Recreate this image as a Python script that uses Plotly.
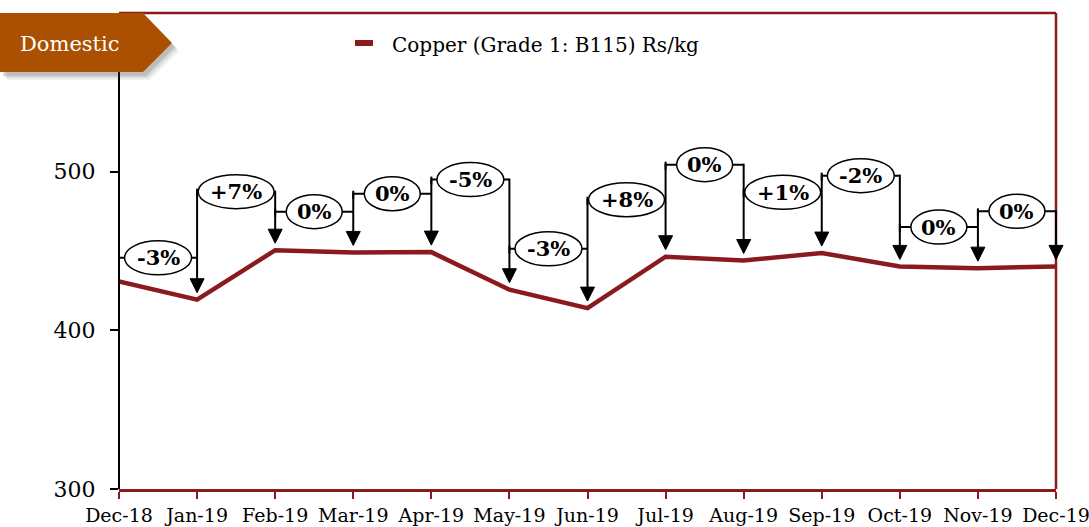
import plotly.graph_objects as go

# ---------------- data ----------------
months = ["Dec-18", "Jan-19", "Feb-19", "Mar-19", "Apr-19", "May-19", "Jun-19",
          "Jul-19", "Aug-19", "Sep-19", "Oct-19", "Nov-19", "Dec-19"]
copper = [430.8, 419.3, 450.5, 449.1, 449.3, 425.6, 414.0,
          446.4, 444.0, 448.7, 440.3, 439.2, 440.3]
changes = ["-3%", "+7%", "0%", "0%", "-5%", "-3%", "+8%", "0%", "+1%", "-2%", "0%", "0%"]
series_name = "Copper (Grade 1: B115) Rs/kg"
y_ticks = [300, 400, 500]
tag_text = "Domestic"

# ---------------- layout decoration (positions, not data) ----------------
bracket_levels = [445.7, 487.4, 474.8, 486.1, 495.0, 451.4, 482.3,
                  504.4, 487.0, 497.5, 465.1, 475.0]

W, H = 1089, 527
ML, MR, MT, MB = 119, 33, 13, 38
PW, PH = W - ML - MR, H - MT - MB
X_RANGE = [0, len(months) - 1]
Y_RANGE = [300, 600]
px_x = (X_RANGE[1] - X_RANGE[0]) / PW
px_y = (Y_RANGE[1] - Y_RANGE[0]) / PH

RED = "#8B1A1F"
TAG = "#AA5000"
FONT = "DejaVu Serif"


def pxp(px):  # pixel x -> paper
    return (px - ML) / PW


def pyp(py):  # pixel y -> paper
    return (H - MB - py) / PH


def dxp(x):  # data x -> paper (linear axis scale)
    return (x - X_RANGE[0]) / (X_RANGE[1] - X_RANGE[0])


def dyp(y):  # data y -> paper
    return (y - Y_RANGE[0]) / (Y_RANGE[1] - Y_RANGE[0])


def ell_w(lbl):
    if len(lbl) <= 2:
        return 56
    return 67 if lbl.startswith("-") else 76


xs = list(range(len(months)))

fig = go.Figure()
fig.add_trace(go.Scatter(x=xs, y=copper, mode="lines", name=series_name,
                         line=dict(color=RED, width=4.5), showlegend=False,
                         hoverinfo="x+y"))

shapes = []
annotations = []

# frame
shapes.append(dict(type="line", xref="paper", yref="paper", x0=0, x1=0, y0=0, y1=1,
                   line=dict(color="black", width=2)))
shapes.append(dict(type="line", xref="paper", yref="paper", x0=0, x1=1, y0=1, y1=1,
                   line=dict(color=RED, width=2.5)))
shapes.append(dict(type="line", xref="paper", yref="paper", x0=1, x1=1, y0=0, y1=1,
                   line=dict(color=RED, width=2.5)))

# brackets: horizontal lines + start stubs
for i, lvl in enumerate(bracket_levels):
    shapes.append(dict(type="line", xref="paper", yref="paper", x0=dxp(xs[i]), x1=dxp(xs[i + 1]),
                       y0=dyp(lvl), y1=dyp(lvl), line=dict(color="black", width=2)))
    shapes.append(dict(type="line", xref="paper", yref="paper", x0=dxp(xs[i]), x1=dxp(xs[i]),
                       y0=dyp(lvl - 5 * px_y), y1=dyp(lvl + 3 * px_y),
                       line=dict(color="black", width=2)))

# arrows down to each month's point
gap = 7 * px_y
head_h = 14 * px_y
head_w = 7 * px_x
for j in range(1, len(months)):
    top = bracket_levels[j - 1]
    if j < len(bracket_levels):
        top = max(top, bracket_levels[j])
    tip = copper[j] + gap
    shapes.append(dict(type="line", xref="paper", yref="paper", x0=dxp(xs[j]), x1=dxp(xs[j]),
                       y0=dyp(top + 1 * px_y), y1=dyp(tip + head_h - 1 * px_y),
                       line=dict(color="black", width=2)))
    path = (f"M {dxp(xs[j] - head_w)},{dyp(tip + head_h)} "
            f"L {dxp(xs[j] + head_w)},{dyp(tip + head_h)} "
            f"L {dxp(xs[j])},{dyp(tip)} Z")
    shapes.append(dict(type="path", xref="paper", yref="paper", path=path,
                       fillcolor="black", line=dict(color="black", width=1)))

# ellipses with labels
for i, (lvl, lbl) in enumerate(zip(bracket_levels, changes)):
    cx = (xs[i] + xs[i + 1]) / 2
    w = ell_w(lbl) * px_x / 2
    h = 17 * px_y
    shapes.append(dict(type="circle", xref="x", yref="y", x0=cx - w, x1=cx + w,
                       y0=lvl - h, y1=lvl + h, fillcolor="white",
                       line=dict(color="black", width=1.5)))
    annotations.append(dict(x=cx, y=lvl, xref="x", yref="y", text=f"<b>{lbl}</b>",
                            showarrow=False, font=dict(family=FONT, size=21, color="black"),
                            xanchor="center", yanchor="middle"))

# "Domestic" tag with shadow
def tag_path(dx, dy):
    pts = [(0, 13), (143, 13), (172, 43), (143, 72), (0, 72)]
    pts = [(pxp(x + dx), pyp(y + dy)) for x, y in pts]
    return "M " + " L ".join(f"{a},{b}" for a, b in pts) + " Z"

for k, (d, op) in enumerate([(8, 0.08), (6, 0.12), (4, 0.18)]):
    shapes.append(dict(type="path", xref="paper", yref="paper", path=tag_path(d - 1, d),
                       fillcolor=f"rgba(60,60,60,{op})", line=dict(width=0)))
shapes.append(dict(type="path", xref="paper", yref="paper", path=tag_path(0, 0),
                   fillcolor=TAG, line=dict(width=0)))
annotations.append(dict(x=pxp(70), y=pyp(44), xref="paper", yref="paper", text=tag_text,
                        showarrow=False, font=dict(family=FONT, size=21, color="white"),
                        xanchor="center", yanchor="middle"))

# legend
shapes.append(dict(type="line", xref="paper", yref="paper", x0=pxp(355), x1=pxp(373),
                   y0=pyp(43), y1=pyp(43), line=dict(color=RED, width=6)))
annotations.append(dict(x=pxp(390), y=pyp(45), xref="paper", yref="paper", text=series_name,
                        showarrow=False, font=dict(family=FONT, size=20, color="black"),
                        xanchor="left", yanchor="middle"))

fig.update_layout(
    width=W, height=H,
    margin=dict(l=ML, r=MR, t=MT, b=MB, autoexpand=False),
    paper_bgcolor="white", plot_bgcolor="white",
    shapes=shapes, annotations=annotations,
    showlegend=False,
    xaxis=dict(range=X_RANGE, tickvals=xs, ticktext=months, showgrid=False, zeroline=False,
               showline=True, linecolor=RED, linewidth=2.5, ticks="outside", tickcolor=RED,
               ticklen=7, tickwidth=2, ticklabeloverflow="allow",
               tickfont=dict(family=FONT, size=19, color="black")),
    yaxis=dict(range=Y_RANGE, tickvals=y_ticks, showgrid=False, zeroline=False,
               showline=False, ticks="outside", tickcolor="black", ticklen=8, tickwidth=1.5,
               ticklabelstandoff=10, tickfont=dict(family=FONT, size=22, color="black")),
)

fig.write_html("out.html", config={"displayModeBar": False},
               post_script="document.body.style.margin='0';document.body.style.padding='0';"
                           "document.documentElement.style.overflow='hidden';")
